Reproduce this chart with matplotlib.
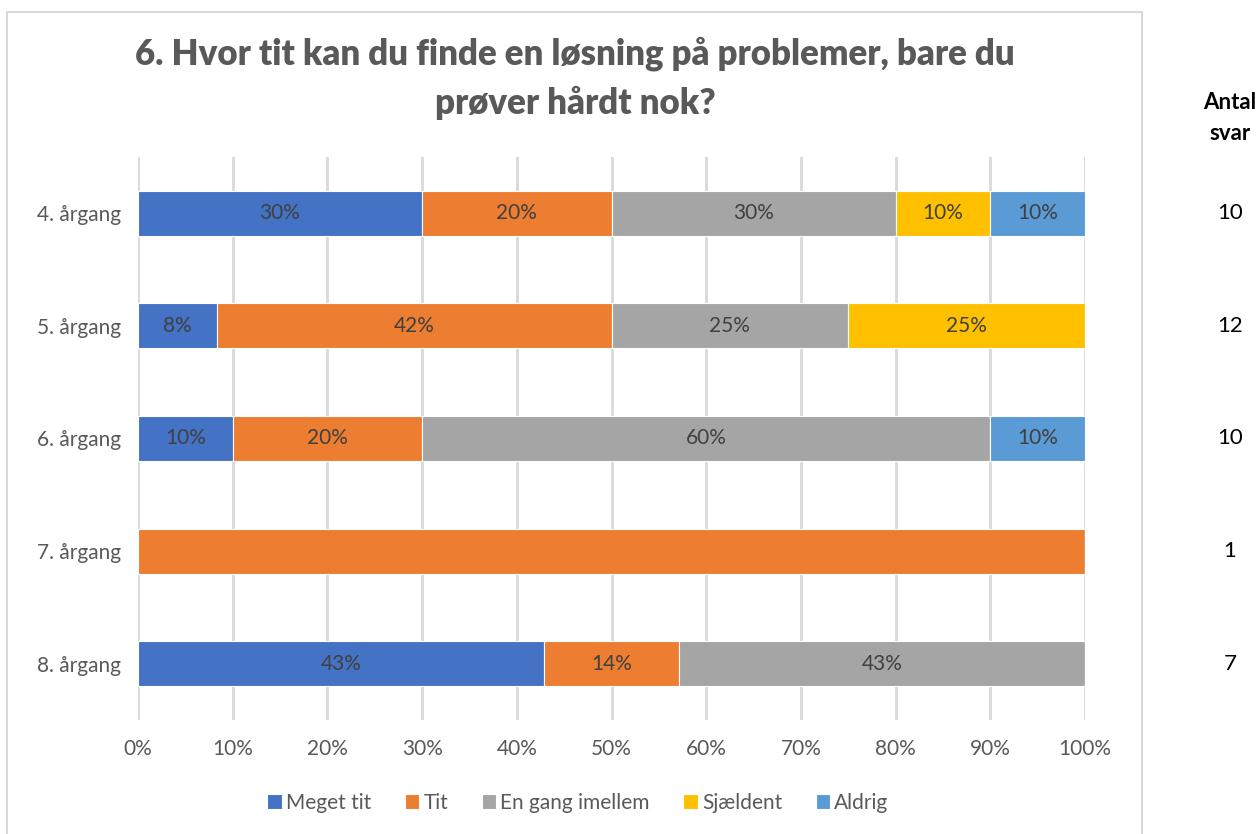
import matplotlib
matplotlib.use("Agg")
import matplotlib.pyplot as plt
import numpy as np
from matplotlib.patches import Rectangle

plt.rcParams['font.family'] = ['Lato', 'DejaVu Sans']

categories = ["4. årgang", "5. årgang", "6. årgang", "7. årgang", "8. årgang"]
series_names = ["Meget tit", "Tit", "En gang imellem", "Sjældent", "Aldrig"]
meget_tit = [30.0, 8.33, 10.0, 0.0, 42.86]
tit = [20.0, 41.67, 20.0, 100.0, 14.29]
en_gang = [30.0, 25.0, 60.0, 0.0, 42.86]
sjaeldent = [10.0, 25.0, 0.0, 0.0, 0.0]
aldrig = [10.0, 0.0, 10.0, 0.0, 0.0]
antal_svar = [10, 12, 10, 1, 7]
show_labels = [True, True, True, False, True]
colors = ["#4472C4", "#ED7D31", "#A5A5A5", "#FFC000", "#5B9BD5"]

W, H = 1259, 834
fig = plt.figure(figsize=(W / 100, H / 100), dpi=100)

# chart border
fig.patches.append(Rectangle((7 / W, -0.01), (1142 - 7) / W, 1 - 12 / H + 0.01,
                             transform=fig.transFigure, fill=False,
                             edgecolor="#D9D9D9", linewidth=1.5))

ax = fig.add_axes([138 / W, 1 - 720 / H, (1085 - 138) / W, (720 - 157) / H])
series = [meget_tit, tit, en_gang, sjaeldent, aldrig]
y = np.arange(len(categories))
left = np.zeros(len(categories))
for name, vals, c in zip(series_names, series, colors):
    vals = np.array(vals)
    ax.barh(y, vals, left=left, height=0.4, color=c, label=name,
            edgecolor="white", linewidth=0.8, zorder=3)
    for i, (v, l) in enumerate(zip(vals, left)):
        if v > 0 and show_labels[i]:
            ax.text(l + v / 2, y[i], f"{round(v):d}%", ha="center", va="center",
                    fontsize=15, color="#404040", zorder=4)
    left += vals

ax.set_xlim(0, 100)
ax.set_ylim(len(categories) - 0.5, -0.5)
ax.set_xticks(np.arange(0, 101, 10))
ax.set_xticklabels([f"{t}%" for t in range(0, 101, 10)], fontsize=15, color="#595959")
ax.set_yticks(y)
ax.set_yticklabels(categories, fontsize=15, color="#595959")
ax.tick_params(length=0, pad=12)
ax.tick_params(axis='x', pad=14)
ax.grid(axis='x', color="#D9D9D9", linewidth=2, zorder=0)
for s in ax.spines.values():
    s.set_visible(False)

fig.text(575 / W, 1 - 78 / H, "6. Hvor tit kan du finde en løsning på problemer, bare du\nprøver hårdt nok?",
         ha="center", va="center", fontsize=25, fontweight="heavy", color="#595959",
         linespacing=1.55)

fig.text(1230 / W, 1 - 118 / H, "Antal\nsvar", ha="center", va="center",
         fontsize=16, fontweight="bold", color="black", linespacing=1.6)
for i, n in enumerate(antal_svar):
    yy = ax.transData.transform((0, y[i]))[1] / H
    fig.text(1230 / W, yy, str(n), ha="center", va="center", fontsize=16, color="black")

handles, labels = ax.get_legend_handles_labels()
fig.legend(handles, labels, loc="center", bbox_to_anchor=(578 / W, 1 - 803 / H),
           ncol=5, frameon=False, fontsize=15, labelcolor="#595959",
           handlelength=0.7, handleheight=0.7, handletextpad=0.2, columnspacing=1.6)

fig.savefig("out.png", dpi=100)
